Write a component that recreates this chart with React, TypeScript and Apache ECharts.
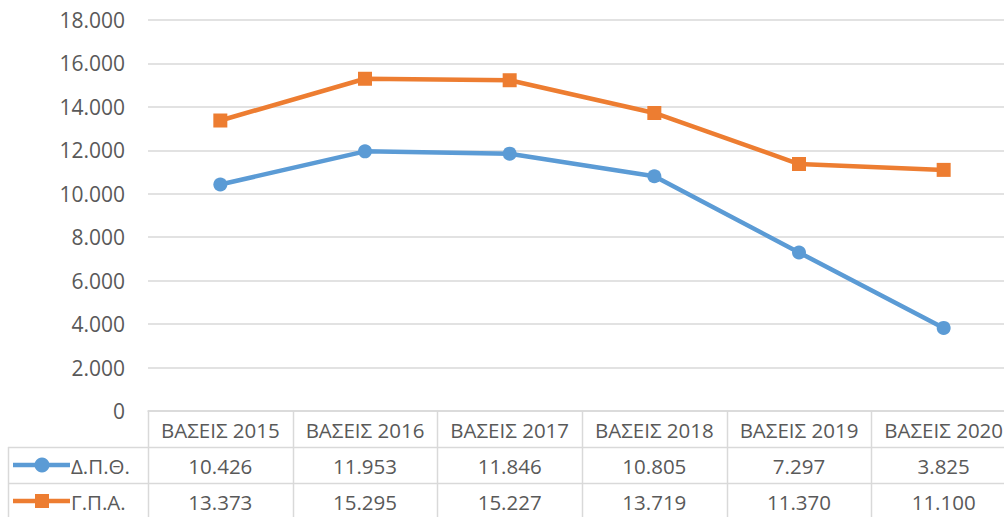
import React, { useEffect, useRef } from "react";
import * as echarts from "echarts";

const categories = ["ΒΑΣΕΙΣ 2015", "ΒΑΣΕΙΣ 2016", "ΒΑΣΕΙΣ 2017", "ΒΑΣΕΙΣ 2018", "ΒΑΣΕΙΣ 2019", "ΒΑΣΕΙΣ 2020"];
const seriesNames = ["Δ.Π.Θ.", "Γ.Π.Α."];
const dpth = [10426, 11953, 11846, 10805, 7297, 3825];
const gpa = [13373, 15295, 15227, 13719, 11370, 11100];
const yTicks = { min: 0, max: 18000, interval: 2000 };

const BLUE = "#5B9BD5";
const ORANGE = "#ED7D31";
const TEXT = "#595959";
const LINE = "#D9D9D9";
const FONT = "'Open Sans', 'Noto Sans', sans-serif";
const FS = 20.5;

const fmt = (v: number) => {
  const s = Math.round(v).toString();
  return s.replace(/\B(?=(\d{3})+(?!\d))/g, ".");
};

const CHART_W = 1020;
const CHART_H = 517;
const GRID_LEFT = 148;
const GRID_TOP = 20;
const AXIS_Y = 411;
const COL_W = (CHART_W - 4 - GRID_LEFT) / 6;
const ROW1 = 447;
const ROW2 = 483;
const ROW3 = 519;

export default function App() {
  const ref = useRef<HTMLDivElement>(null);
  useEffect(() => {
    if (!ref.current) return;
    const chart = echarts.init(ref.current, undefined, { renderer: "svg" });
    const rows = [dpth, gpa];
    const colors = [BLUE, ORANGE];
    const graphics: any[] = [];
    [ROW1, ROW2, ROW3].forEach((y) =>
      graphics.push({
        type: "line",
        shape: { x1: 8, y1: y + 0.5, x2: CHART_W, y2: y + 0.5 },
        style: { stroke: LINE, lineWidth: 1.5 },
        silent: true,
      })
    );
    graphics.push({
      type: "line",
      shape: { x1: 8.5, y1: ROW1, x2: 8.5, y2: CHART_H },
      style: { stroke: LINE, lineWidth: 1.5 },
    });
    for (let i = 0; i <= categories.length; i++) {
      const x = Math.round(GRID_LEFT + i * COL_W) + 0.5;
      graphics.push({
        type: "line",
        shape: { x1: x, y1: AXIS_Y, x2: x, y2: CHART_H },
        style: { stroke: LINE, lineWidth: 1.5 },
      });
    }
    rows.forEach((row, r) => {
      const cy = (r === 0 ? (ROW1 + ROW2) / 2 : (ROW2 + ROW3) / 2) + 1;
      row.forEach((v, i) => {
        graphics.push({
          type: "text",
          x: GRID_LEFT + (i + 0.5) * COL_W,
          y: cy,
          style: {
            text: fmt(v),
            fill: TEXT,
            font: `${FS}px ${FONT}`,
            align: "center",
            verticalAlign: "middle",
          },
        });
      });
      graphics.push({
        type: "line",
        shape: { x1: 13, y1: cy - 1, x2: 70, y2: cy - 1 },
        style: { stroke: colors[r], lineWidth: 4.5 },
      });
      if (r === 0) {
        graphics.push({
          type: "circle",
          shape: { cx: 42, cy: cy - 1, r: 7.5 },
          style: { fill: colors[r] },
        });
      } else {
        graphics.push({
          type: "rect",
          shape: { x: 35, y: cy - 8, width: 14, height: 14 },
          style: { fill: colors[r] },
        });
      }
      graphics.push({
        type: "text",
        x: 71,
        y: cy,
        style: {
          text: seriesNames[r],
          fill: TEXT,
          font: `${FS}px ${FONT}`,
          align: "left",
          verticalAlign: "middle",
        },
      });
    });

    chart.setOption({
      animation: false,
      textStyle: { fontFamily: FONT },
      grid: {
        left: GRID_LEFT,
        right: 4,
        top: GRID_TOP,
        bottom: CHART_H - AXIS_Y,
        containLabel: false,
      },
      xAxis: {
        type: "category",
        data: categories,
        boundaryGap: true,
        axisLine: { lineStyle: { color: LINE, width: 1.5 } },
        axisTick: { show: false },
        axisLabel: {
          color: TEXT,
          fontSize: FS,
          fontFamily: FONT,
          margin: 8,
          interval: 0,
        },
        splitLine: { show: false },
      },
      yAxis: {
        type: "value",
        min: yTicks.min,
        max: yTicks.max,
        interval: yTicks.interval,
        axisLine: { show: false },
        axisTick: { show: false },
        axisLabel: {
          color: TEXT,
          fontSize: 21,
          fontFamily: FONT,
          margin: 23,
          formatter: (v: number) => fmt(v),
        },
        splitLine: { lineStyle: { color: LINE, width: 1.5 } },
      },
      series: [
        {
          name: seriesNames[0],
          type: "line",
          data: dpth,
          symbol: "circle",
          symbolSize: 14,
          lineStyle: { color: BLUE, width: 4.5 },
          itemStyle: { color: BLUE },
        },
        {
          name: seriesNames[1],
          type: "line",
          data: gpa,
          symbol: "rect",
          symbolSize: 14,
          lineStyle: { color: ORANGE, width: 4.5 },
          itemStyle: { color: ORANGE },
        },
      ],
      graphic: graphics,
    });
    return () => chart.dispose();
  }, []);
  return (
    <div style={{ position: "fixed", left: 0, top: 0, width: 1004, height: 517, overflow: "hidden", background: "#fff" }}>
      <div ref={ref} style={{ width: CHART_W, height: CHART_H }} />
    </div>
  );
}
